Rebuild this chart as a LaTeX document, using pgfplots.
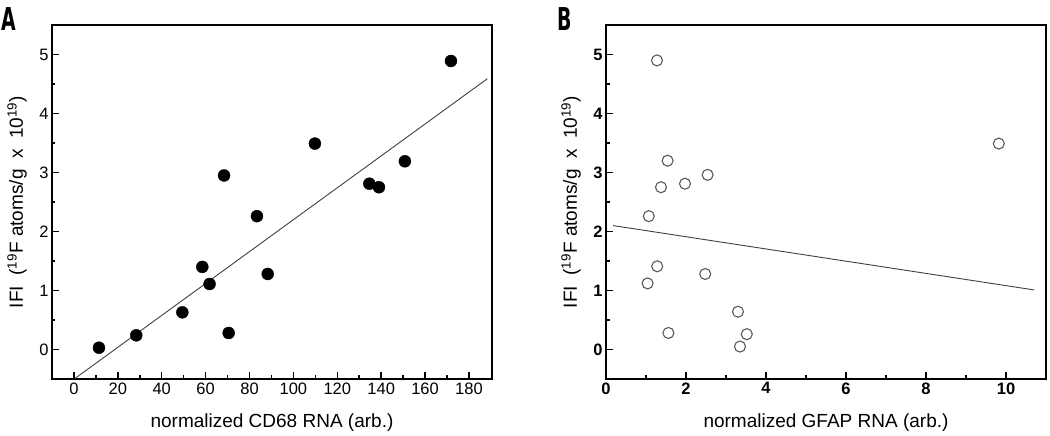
\documentclass[border=0pt]{standalone}
\usepackage{fontspec}
\setmainfont{Liberation Sans}
\newfontfamily\letterfont{DejaVu Sans}
\usepackage{graphicx}
\usepackage{pgfplots}
\pgfplotsset{compat=1.18}
\begin{document}
\begin{tikzpicture}[x=1pt,y=1pt]
\useasboundingbox (0,0) rectangle (1050,436);
\pgfplotsset{myax/.style={
  scale only axis, width=440pt, height=354pt,
  ymin=-0.5, ymax=5.5, ytick={0,1,2,3,4,5}, minor y tick num=1,
  tick pos=left, tick align=inside,
  major tick length=7pt, minor tick length=3.5pt,
  axis line style={line width=2.4pt},
  every outer x axis line/.append style={line width=2.4pt},
  every outer y axis line/.append style={line width=2.4pt},
  every tick/.style={black, line width=1.5pt},
  tick label style={font=\fontsize{16.5}{16.5}\selectfont},
  label style={font=\fontsize{19}{19}\selectfont},
  /pgf/number format/assume math mode=true,
  ylabel={IFI\ \ (\textsuperscript{19}F atoms/g\ \ x\ \ 10\textsuperscript{19})},
  ylabel style={at={(axis description cs:0,0.5)}, anchor=center, yshift=35pt},
  xlabel style={at={(axis description cs:0.5,0)}, anchor=center, yshift=-44pt},
}}
\begin{axis}[myax, at={(52pt,57pt)}, anchor=south west,
  xmin=-10, xmax=190.5, xtick={0,20,...,180}, minor x tick num=1,
  xlabel={normalized CD68 RNA (arb.)}]
\addplot[only marks, mark=*, mark size=6pt, mark options={fill=black, draw=black}] coordinates {
(11.4,0.03) (28.4,0.24) (49.4,0.63) (58.5,1.40) (61.8,1.11) (68.4,2.95) (70.5,0.28)
(83.4,2.26) (88.3,1.28) (109.8,3.49) (134.6,2.81) (139.0,2.75) (150.8,3.19) (171.8,4.89)};
\addplot[black!75, line width=0.9pt] coordinates {(0.5,-0.49) (188.4,4.59)};
\end{axis}
\begin{axis}[myax, at={(606pt,57pt)}, anchor=south west,
  xmin=0, xmax=11, xtick={0,2,...,10}, minor x tick num=1,
  tick label style={font=\fontsize{16.5}{16.5}\selectfont\bfseries},
  xlabel={normalized GFAP RNA (arb.)}]
\addplot[only marks, mark=o, mark size=5.5pt, mark options={draw=black!65, line width=1.1pt}] coordinates {
(1.275,4.90) (9.82,3.49) (1.54,3.20) (1.375,2.75) (1.975,2.81) (2.54,2.96) (1.07,2.26)
(1.28,1.41) (1.04,1.12) (2.48,1.28) (3.30,0.64) (1.56,0.28) (3.52,0.26) (3.35,0.05)};
\addplot[black!75, line width=0.9pt] coordinates {(0.18,2.10) (10.7,1.01)};
\end{axis}
\node[anchor=north west, inner sep=0pt] at (1,429) {\scalebox{0.6}[1]{\fontsize{31.5}{31.5}\selectfont\letterfont\bfseries A}};
\node[anchor=north west, inner sep=0pt] at (557,429) {\scalebox{0.6}[1]{\fontsize{31.5}{31.5}\selectfont\letterfont\bfseries B}};
\end{tikzpicture}
\end{document}
